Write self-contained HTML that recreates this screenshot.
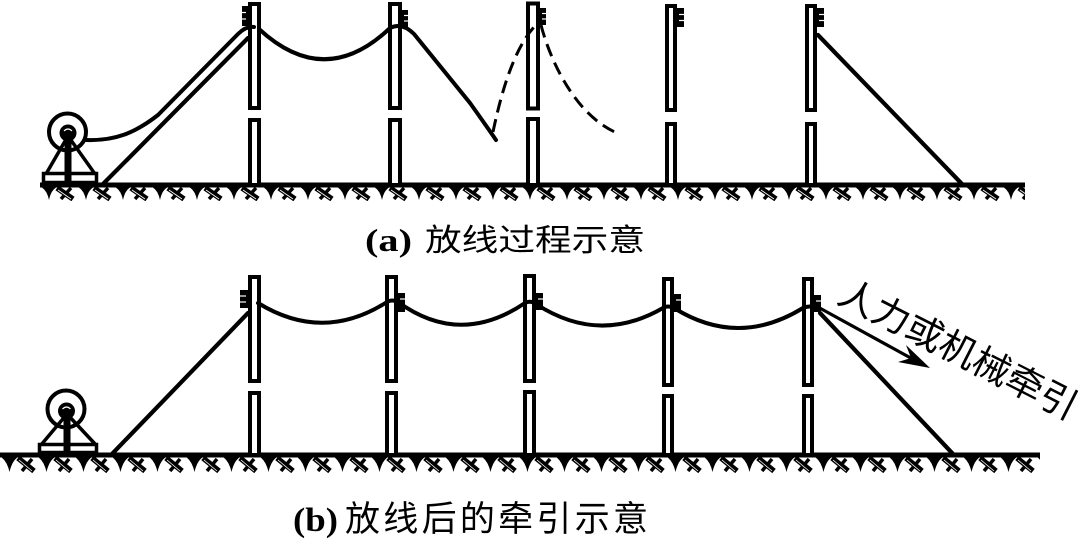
<!DOCTYPE html>
<html><head><meta charset="utf-8"><style>
html,body{margin:0;padding:0;background:#fff;}
svg{display:block;}
</style></head><body>
<svg width="1080" height="540" viewBox="0 0 1080 540" xmlns="http://www.w3.org/2000/svg">
<defs>
<pattern id="hT" x="42" y="187" width="37" height="14" patternUnits="userSpaceOnUse">
<path d="M-1,0 L15,0 Q9,3 7,13 Q5,3 -1,0Z" fill="#000"/>
<line x1="15" y1="1" x2="31" y2="12" stroke="#000" stroke-width="5.5"/>
<line x1="29" y1="1" x2="19" y2="12" stroke="#000" stroke-width="3.5"/>
<line x1="16" y1="3" x2="29" y2="12" stroke="#fff" stroke-width="0.8"/>
</pattern>
<pattern id="hB" x="2" y="457" width="37" height="16" patternUnits="userSpaceOnUse">
<path d="M-1,0 L16,0 Q10,4 7.5,15 Q5,4 -1,0Z" fill="#000"/>
<line x1="16" y1="1" x2="32" y2="14" stroke="#000" stroke-width="5.5"/>
<line x1="30" y1="2" x2="20" y2="14" stroke="#000" stroke-width="3.5"/>
<line x1="17" y1="3" x2="30" y2="14" stroke="#fff" stroke-width="0.8"/>
</pattern>
</defs>
<rect width="1080" height="540" fill="#fff"/>

<!-- ===== TOP PANEL ===== -->
<rect x="42" y="187" width="983" height="14" fill="url(#hT)"/>
<rect x="40" y="182.5" width="985" height="5" fill="#000"/>

<g stroke="#000" stroke-width="4.2" fill="none" stroke-linecap="round">
<line x1="248" y1="38" x2="103" y2="184"/>
<line x1="818" y1="35" x2="962" y2="184"/>
</g>

<g stroke="#000" stroke-width="4" fill="#fff">
<rect x="250" y="4" width="9" height="104"/>
<rect x="250" y="120" width="9" height="65"/>
<rect x="390" y="4" width="10" height="104"/>
<rect x="390" y="120" width="10" height="65"/>
<rect x="528" y="3.5" width="10" height="105"/>
<rect x="528" y="119" width="10" height="66"/>
<rect x="667" y="6" width="8" height="104"/>
<rect x="667" y="124" width="8" height="61"/>
<rect x="807" y="6" width="8" height="104"/>
<rect x="807" y="124" width="8" height="61"/>
</g>

<g stroke="#000" stroke-width="4" fill="none" stroke-linecap="round">
<path d="M86,140 C115,141 135,133 158,115 L238,34 Q246,26 254,27"/>
<path d="M259,29 Q325,90 390,28"/>
<path d="M390,28 Q402,22 414,34 L470,103 Q485,124 496,140"/>
</g>
<g stroke="#000" stroke-width="3" fill="none" stroke-dasharray="13 7">
<path d="M493,132 Q510,50 537,24"/>
<path d="M541,25 C550,60 575,115 617,133"/>
</g>

<!-- insulators top -->
<g fill="#000">
<rect x="242" y="6" width="6" height="20"/>
<rect x="402" y="10" width="6" height="17"/>
<rect x="540" y="8" width="6" height="17"/>
<rect x="677" y="8" width="7" height="19"/>
<rect x="817" y="8" width="7" height="19"/>
</g>
<g stroke="#fff" stroke-width="1.2">
<line x1="242" y1="12.5" x2="246" y2="12.5"/><line x1="242" y1="19" x2="246" y2="19"/>
<line x1="404" y1="15.5" x2="408" y2="15.5"/><line x1="404" y1="21" x2="408" y2="21"/>
<line x1="542" y1="13.5" x2="546" y2="13.5"/><line x1="542" y1="19" x2="546" y2="19"/>
<line x1="679" y1="14.5" x2="684" y2="14.5"/><line x1="679" y1="20.5" x2="684" y2="20.5"/>
<line x1="819" y1="14.5" x2="824" y2="14.5"/><line x1="819" y1="20.5" x2="824" y2="20.5"/>
</g>

<!-- drum top -->
<g stroke="#000" stroke-width="3.5" fill="none">
<line x1="68" y1="136" x2="46" y2="174"/>
<line x1="68" y1="136" x2="95" y2="174"/>
<rect x="43.5" y="173.5" width="53" height="9" fill="#fff"/>
<circle cx="67.5" cy="132" r="18.5" stroke-width="4"/>
</g>
<rect x="64.5" y="133" width="7" height="50" fill="#000"/>
<circle cx="68" cy="133" r="8.5" fill="#000"/>
<path d="M64,131 Q68,127 72,131" stroke="#fff" stroke-width="1.2" fill="none"/>

<!-- caption a -->
<text x="365" y="251" font-family="'Liberation Serif', serif" font-weight="bold" font-size="32" textLength="47" lengthAdjust="spacingAndGlyphs">(a)</text>
<text x="425" y="251" font-family="'Liberation Sans','Noto Sans CJK SC',sans-serif" font-size="31" textLength="220" lengthAdjust="spacingAndGlyphs">放线过程示意</text>

<!-- ===== BOTTOM PANEL ===== -->
<rect x="0" y="457" width="1040" height="16" fill="url(#hB)"/>
<rect x="0" y="452.5" width="1040" height="5" fill="#000"/>

<g stroke="#000" stroke-width="4.2" fill="none" stroke-linecap="round">
<line x1="248" y1="313" x2="112" y2="454"/>
<line x1="820" y1="313" x2="953" y2="454"/>
</g>

<g stroke="#000" stroke-width="4" fill="#fff">
<rect x="250" y="277" width="9" height="104"/>
<rect x="250" y="393" width="9" height="62"/>
<rect x="387" y="277" width="9" height="104"/>
<rect x="387" y="393" width="9" height="62"/>
<rect x="525" y="276" width="9" height="105"/>
<rect x="525" y="392" width="9" height="63"/>
<rect x="664" y="279" width="8" height="106"/>
<rect x="664" y="396" width="8" height="59"/>
<rect x="804" y="279" width="8" height="106"/>
<rect x="804" y="396" width="8" height="59"/>
</g>

<!-- insulators bottom -->
<g fill="#000">
<rect x="240" y="290" width="8" height="18"/>
<rect x="398" y="293" width="7" height="19"/>
<rect x="536" y="293" width="7" height="17"/>
<rect x="674" y="294" width="7" height="18"/>
<rect x="814" y="295" width="7" height="17"/>
</g>
<g stroke="#fff" stroke-width="1.2">
<line x1="240" y1="296" x2="246" y2="296"/><line x1="240" y1="302" x2="246" y2="302"/>
<line x1="400" y1="299" x2="405" y2="299"/>
<line x1="538" y1="299" x2="543" y2="299"/>
<line x1="676" y1="300" x2="681" y2="300"/>
<line x1="816" y1="301" x2="821" y2="301"/>
</g>

<g stroke="#000" stroke-width="4" fill="none" stroke-linecap="round">
<path d="M258,303 Q323,343 387,302 Q392,299 398,302"/>
<path d="M398,302 Q460,347 525,303 Q530,300 536,304"/>
<path d="M536,304 Q599,345 663,308 Q668,305 674,308"/>
<path d="M674,308 Q738,348 803,308 Q810,305 816,308"/>
</g>
<line x1="816" y1="306" x2="918" y2="362" stroke="#000" stroke-width="3.2" stroke-linecap="round"/>
<polygon points="930,368 898,362 911,358 906,345" fill="#000"/>

<!-- drum bottom -->
<g stroke="#000" stroke-width="3.5" fill="none">
<line x1="67" y1="414" x2="41" y2="445"/>
<line x1="67" y1="414" x2="96" y2="445"/>
<rect x="39.5" y="444.5" width="57" height="8" fill="#fff"/>
<circle cx="66" cy="409" r="18.5" stroke-width="4"/>
</g>
<rect x="63.5" y="412" width="7" height="42" fill="#000"/>
<circle cx="66.5" cy="411" r="8.5" fill="#000"/>
<path d="M62.5,409 Q66.5,405 70.5,409" stroke="#fff" stroke-width="1.2" fill="none"/>

<!-- rotated label -->
<text transform="translate(958,350) rotate(27)" text-anchor="middle" dominant-baseline="central" font-family="'Liberation Sans','Noto Sans CJK SC',sans-serif" font-size="37" textLength="262" lengthAdjust="spacingAndGlyphs">人力或机械牵引</text>

<!-- caption b -->
<text x="293" y="531" font-family="'Liberation Serif', serif" font-weight="bold" font-size="34" textLength="45" lengthAdjust="spacingAndGlyphs">(b)</text>
<text x="345" y="531" font-family="'Liberation Sans','Noto Sans CJK SC',sans-serif" font-size="35" textLength="303" lengthAdjust="spacing">放线后的牵引示意</text>
</svg>
</body></html>
